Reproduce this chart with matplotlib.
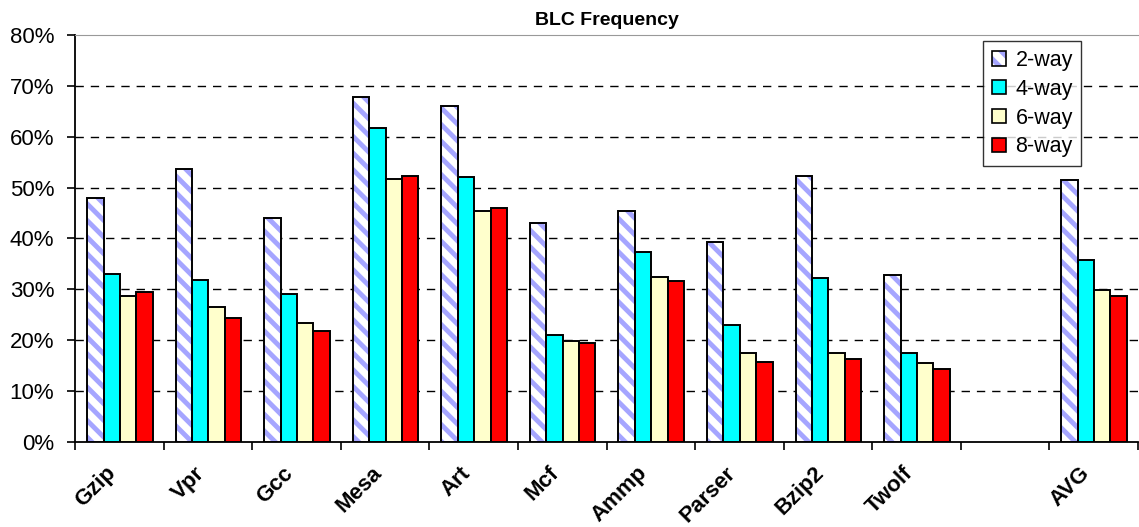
import matplotlib.pyplot as plt
import numpy as np
from matplotlib.patches import Patch
from matplotlib.legend_handler import HandlerTuple
from matplotlib.ticker import FuncFormatter

plt.rcParams['font.family'] = ['Liberation Sans', 'DejaVu Sans']
plt.rcParams['hatch.linewidth'] = 3.5
plt.rcParams['hatch.color'] = '#a5a5ff'

benchmarks = ['Gzip', 'Vpr', 'Gcc', 'Mesa', 'Art', 'Mcf', 'Ammp', 'Parser',
              'Bzip2', 'Twolf', '', 'AVG']
series = ['2-way', '4-way', '6-way', '8-way']

way2 = [48.0, 53.7, 44.0, 67.8, 66.0, 43.0, 45.4, 39.4, 52.3, 32.8, np.nan, 51.4]
way4 = [33.0, 31.8, 29.0, 61.7, 52.0, 21.0, 37.4, 23.0, 32.2, 17.5, np.nan, 35.8]
way6 = [28.7, 26.6, 23.4, 51.7, 45.4, 19.8, 32.4, 17.5, 17.5, 15.5, np.nan, 29.8]
way8 = [29.5, 24.3, 21.8, 52.2, 46.0, 19.5, 31.6, 15.8, 16.4, 14.3, np.nan, 28.7]

fig = plt.figure(figsize=(11.39, 5.27), dpi=100)
ax = fig.add_axes([0.066, 0.161, 0.933, 0.773])

x = np.arange(len(benchmarks))
bw = 0.185
off = 0.135

# 2-way: white with lavender diagonal hatch, then black outline on top
ax.bar(x + off, way2, bw, align='edge', color='white', edgecolor='#a5a5ff',
       hatch='\\\\', linewidth=0, zorder=3)
ax.bar(x + off, way2, bw, align='edge', fill=False, edgecolor='black',
       linewidth=1.4, zorder=4)
ax.bar(x + off + bw, way4, bw, align='edge', color='#00ffff',
       edgecolor='black', linewidth=1.4, zorder=3)
ax.bar(x + off + 2 * bw, way6, bw, align='edge', color='#ffffcc',
       edgecolor='black', linewidth=1.4, zorder=3)
ax.bar(x + off + 3 * bw, way8, bw, align='edge', color='#ff0000',
       edgecolor='black', linewidth=1.4, zorder=3)

ax.set_xlim(0, len(benchmarks))
ax.set_ylim(0, 80)
ax.set_yticks(np.arange(0, 81, 10))
ax.yaxis.set_major_formatter(FuncFormatter(lambda v, p: f"{v:.0f}%"))
ax.tick_params(axis='y', labelsize=16, length=6, width=1.2, direction='out', pad=9)
ax.set_xticks(np.arange(len(benchmarks) + 1))
ax.set_xticklabels([])
ax.tick_params(axis='x', length=6, width=1.2, direction='out')

for i, name in enumerate(benchmarks):
    if name:
        ax.text(i + 0.34, -4.0, name, rotation=45, ha='right', va='top',
                rotation_mode='anchor', fontsize=16, fontweight='bold',
                transform=ax.transData)

for v in range(10, 80, 10):
    ax.axhline(v, color='black', linestyle=(0, (6, 5)), linewidth=1.0, zorder=1)

ax.spines['top'].set_color('#999999')
ax.spines['right'].set_visible(False)
ax.spines['left'].set_linewidth(1.3)
ax.spines['bottom'].set_linewidth(1.3)

ax.set_title('BLC Frequency', fontsize=14, fontweight='bold', pad=7)

hatched = Patch(facecolor='white', hatch='\\\\', linewidth=0)
outline = Patch(fill=False, edgecolor='black', linewidth=1.2)
handles = [
    (hatched, outline),
    Patch(facecolor='#00ffff', edgecolor='black', linewidth=1.2),
    Patch(facecolor='#ffffcc', edgecolor='black', linewidth=1.2),
    Patch(facecolor='#ff0000', edgecolor='black', linewidth=1.2),
]
leg = ax.legend(handles, series, loc='upper right', bbox_to_anchor=(0.957, 1.01),
                fontsize=15.5, frameon=True, fancybox=False, handlelength=0.65,
                handleheight=0.65, handletextpad=0.45, labelspacing=0.36,
                borderpad=0.4,
                handler_map={tuple: HandlerTuple(ndivide=1, pad=0)})
leg.get_frame().set_edgecolor('black')
leg.get_frame().set_linewidth(1.0)

plt.savefig('out.png', dpi=100)
